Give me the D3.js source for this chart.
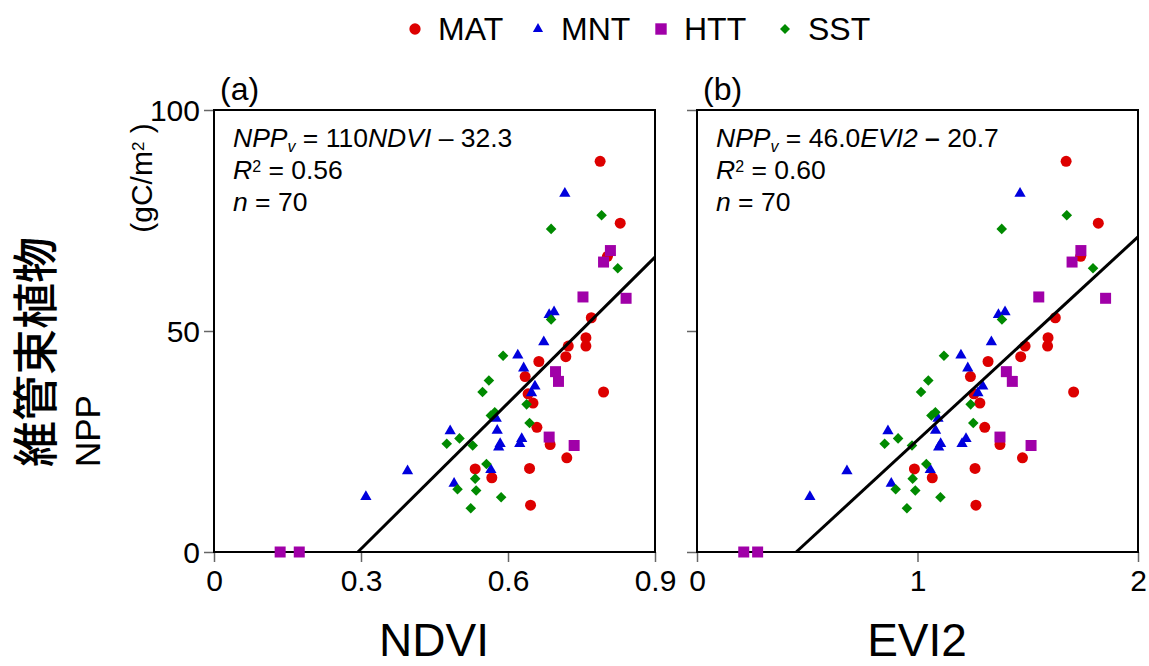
<!DOCTYPE html>
<html>
<head>
<meta charset="utf-8">
<script src="https://cdn.jsdelivr.net/npm/d3@7"></script>
<style>
  body { margin: 0; background: #fff; }
  text { font-family: Arial, "Liberation Sans", sans-serif; fill: #000; }
  .tick line { stroke: #666; stroke-width: 1.5; }
  .tick text { font-size: 30px; }
</style>
</head>
<body>
<svg id="chart" width="1149" height="666"></svg>
<script>
const groups = ["MAT", "MNT", "HTT", "SST"];
const colors = { MAT: "#dd0000", MNT: "#0000dd", HTT: "#a000a8", SST: "#008a00" };

// NPP (gC/m2) with NDVI and EVI2 for each site, by group
const matNPP  = [88.4, 74.4, 66.9, 53.0, 48.5, 46.6, 46.6, 44.2, 43.1, 39.7, 35.8, 33.7, 36.2, 28.2, 24.3, 21.3, 18.8, 18.9, 16.8, 10.6];
const matNDVI = [0.788, 0.829, 0.803, 0.770, 0.759, 0.759, 0.723, 0.718, 0.663, 0.635, 0.641, 0.651, 0.795, 0.659, 0.686, 0.720, 0.533, 0.644, 0.567, 0.646];
const matEVI2 = [1.674, 1.820, 1.740, 1.625, 1.592, 1.590, 1.488, 1.468, 1.320, 1.240, 1.256, 1.283, 1.708, 1.305, 1.374, 1.476, 0.986, 1.261, 1.067, 1.265];

const mntNPP  = [81.1, 53.7, 54.3, 47.5, 44.5, 41.6, 37.5, 36.0, 30.2, 27.5, 24.5, 23.7, 25.6, 24.5, 27.4, 18.3, 18.6, 15.5, 12.5];
const mntNDVI = [0.716, 0.684, 0.694, 0.673, 0.620, 0.632, 0.655, 0.648, 0.576, 0.578, 0.584, 0.581, 0.628, 0.624, 0.482, 0.395, 0.565, 0.490, 0.310];
const mntEVI2 = [1.465, 1.367, 1.397, 1.335, 1.197, 1.228, 1.296, 1.274, 1.093, 1.082, 1.105, 1.096, 1.220, 1.202, 0.866, 0.680, 1.058, 0.881, 0.512];

const httNPP  = [68.2, 65.6, 57.7, 57.4, 40.8, 38.6, 26.0, 24.1, 0, 0];
const httNDVI = [0.809, 0.795, 0.753, 0.841, 0.697, 0.703, 0.684, 0.735, 0.135, 0.174];
const httEVI2 = [1.741, 1.701, 1.550, 1.853, 1.403, 1.430, 1.374, 1.515, 0.212, 0.275];

const sstNPP  = [76.2, 73.1, 64.2, 52.6, 44.4, 38.8, 36.2, 31.6, 30.9, 33.4, 29.2, 25.7, 24.5, 24.1, 19.9, 16.6, 14.2, 13.9, 12.4, 9.9];
const sstNDVI = [0.791, 0.688, 0.824, 0.688, 0.590, 0.561, 0.548, 0.573, 0.565, 0.638, 0.644, 0.501, 0.475, 0.528, 0.556, 0.533, 0.497, 0.535, 0.586, 0.524];
const sstEVI2 = [1.677, 1.382, 1.796, 1.383, 1.120, 1.049, 1.016, 1.081, 1.063, 1.241, 1.253, 0.912, 0.851, 0.975, 1.040, 0.978, 0.901, 0.990, 1.104, 0.952];

const ndviTicks = [0, 0.3, 0.6, 0.9];
const evi2Ticks = [0, 1, 2];
const nppTicks = [0, 50, 100];

// regression fits (slope, intercept)
const fitNDVI = [110, -32.3];
const fitEVI2 = [46.0, -20.7];

const rows = [];
[["MAT", matNPP, matNDVI, matEVI2], ["MNT", mntNPP, mntNDVI, mntEVI2],
 ["HTT", httNPP, httNDVI, httEVI2], ["SST", sstNPP, sstNDVI, sstEVI2]].forEach(([g, npp, ndvi, evi]) => {
    npp.forEach((v, i) => rows.push({ group: g, npp: v, ndvi: ndvi[i], evi2: evi[i] }));
});

const svg = d3.select("#chart");
const y = d3.scaleLinear().domain([0, 100]).range([552, 110]);

const symbolFor = {
    MAT: d3.symbol().type(d3.symbolCircle).size(95),
    MNT: d3.symbol().type(d3.symbolTriangle).size(55),
    HTT: d3.symbol().type(d3.symbolSquare).size(121),
    SST: d3.symbol().type(d3.symbolSquare).size(56)
};
const rotFor = { MAT: 0, MNT: 0, HTT: 0, SST: 45 };

function panel(key, x, ticks, fmt, fit, letter, lines, showYLabels) {
    const g = svg.append("g");
    const [x0, x1] = x.range();

    // axes
    const xa = g.append("g")
        .attr("transform", `translate(0,${y(0)})`)
        .call(d3.axisBottom(x).tickValues(ticks).tickFormat(fmt).tickSize(10).tickPadding(8));
    xa.select(".domain").remove();

    const ya = g.append("g")
        .attr("transform", `translate(${x0},0)`)
        .call(d3.axisLeft(y).tickValues(nppTicks).tickSize(10).tickPadding(4)
            .tickFormat(showYLabels ? d3.format("d") : ""));
    ya.select(".domain").remove();
    ya.selectAll(".tick text").attr("dy", "0.36em");

    g.append("rect")
        .attr("x", x0).attr("y", y(100))
        .attr("width", x1 - x0).attr("height", y(0) - y(100))
        .attr("fill", "none").attr("stroke", "#000").attr("stroke-width", 2);

    // points
    groups.forEach(grp => {
        g.selectAll(null)
            .data(rows.filter(d => d.group === grp))
            .enter().append("path")
            .attr("d", symbolFor[grp])
            .attr("fill", colors[grp])
            .attr("transform", d => `translate(${x(d[key])},${y(d.npp)}) rotate(${rotFor[grp]})`);
    });

    // regression line, from where it crosses 0 to the right edge
    const xs = -fit[1] / fit[0];
    const xe = x.domain()[1];
    g.append("line")
        .attr("x1", x(xs)).attr("y1", y(0))
        .attr("x2", x(xe)).attr("y2", y(fit[0] * xe + fit[1]))
        .attr("stroke", "#000").attr("stroke-width", 3);

    g.append("text")
        .attr("x", x0 + 6).attr("y", 100)
        .style("font-size", "32px")
        .text(letter);

    const ann = g.append("g").style("font-size", "26.5px");
    lines.forEach((parts, i) => {
        const t = ann.append("text").attr("x", x0 + 19).attr("y", 147 + i * 32);
        parts.forEach(p => {
            const s = t.append("tspan").text(p.t);
            if (p.i) s.style("font-style", "italic");
            if (p.sub) s.attr("baseline-shift", "-30%").style("font-size", "16px");
            if (p.sup) s.attr("baseline-shift", "45%").style("font-size", "16px");
            if (p.b) s.style("font-weight", "bold");
        });
    });
}

panel("ndvi", d3.scaleLinear().domain([0, 0.9]).range([214, 655]), ndviTicks,
    d => d === 0 ? "0" : d3.format(".1f")(d), fitNDVI, "(a)", [
        [{ t: "NPP", i: true }, { t: "v", i: true, sub: true }, { t: " = 110" }, { t: "NDVI", i: true }, { t: " \u2013 32.3" }],
        [{ t: "R", i: true }, { t: "2", sup: true }, { t: " = 0.56" }],
        [{ t: "n", i: true }, { t: " = 70" }]
    ], true);

panel("evi2", d3.scaleLinear().domain([0, 2]).range([697, 1138]), evi2Ticks,
    d3.format("d"), fitEVI2, "(b)", [
        [{ t: "NPP", i: true }, { t: "v", i: true, sub: true }, { t: " = 46.0" }, { t: "EVI2", i: true }, { t: " " }, { t: "\u2013", b: true }, { t: " 20.7" }],
        [{ t: "R", i: true }, { t: "2", sup: true }, { t: " = 0.60" }],
        [{ t: "n", i: true }, { t: " = 70" }]
    ], false);

// axis titles
svg.append("text").attr("x", 434).attr("y", 656).attr("text-anchor", "middle")
    .style("font-size", "46px").text("NDVI");
svg.append("text").attr("x", 917).attr("y", 656).attr("text-anchor", "middle")
    .style("font-size", "46px").text("EVI2");

svg.append("text")
    .attr("transform", "translate(52,467) rotate(-90)")
    .attr("text-anchor", "start")
    .style("font-family", "'Noto Sans CJK JP', sans-serif")
    .style("font-weight", "500")
    .style("font-size", "46px")
    .text("維管束植物");
svg.append("text")
    .attr("transform", "translate(100,467) rotate(-90)")
    .attr("text-anchor", "start")
    .style("font-size", "35px")
    .text("NPP");
const unit = svg.append("text")
    .attr("transform", "translate(152,178) rotate(-90)")
    .attr("text-anchor", "middle")
    .style("font-size", "30px");
unit.append("tspan").text("(gC/m");
unit.append("tspan").attr("baseline-shift", "45%").style("font-size", "17px").text("2");
unit.append("tspan").text(" )");

// legend
const legendX = [415, 538, 661, 785];
groups.forEach((grp, i) => {
    const sym = grp === "MAT" ? d3.symbol().type(d3.symbolCircle).size(100)
        : grp === "MNT" ? d3.symbol().type(d3.symbolTriangle).size(45)
        : grp === "HTT" ? d3.symbol().type(d3.symbolSquare).size(130)
        : d3.symbol().type(d3.symbolSquare).size(50);
    svg.append("path")
        .attr("d", sym)
        .attr("fill", colors[grp])
        .attr("transform", `translate(${legendX[i]},29) rotate(${rotFor[grp]})`);
    svg.append("text")
        .attr("x", legendX[i] + 23).attr("y", 40)
        .style("font-size", "32px")
        .text(grp);
});
</script>
</body>
</html>
